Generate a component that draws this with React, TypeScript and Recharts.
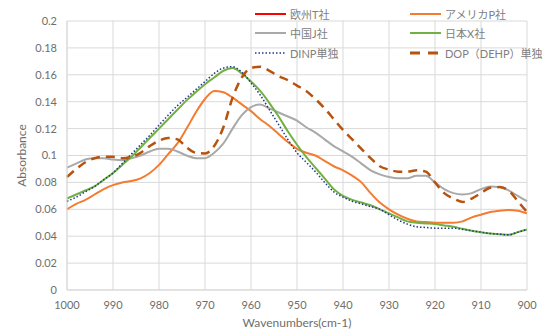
import React from 'react';
import { LineChart, Line, XAxis, YAxis, CartesianGrid } from 'recharts';

const wavenumbers = [1000, 998, 996, 994, 992, 990, 988, 986, 984, 982, 980, 978, 976, 974, 972, 970, 968, 966, 964, 962, 960, 958, 956, 954, 952, 950, 948, 946, 944, 942, 940, 938, 936, 934, 932, 930, 928, 926, 924, 922, 920, 918, 916, 914, 912, 910, 908, 906, 904, 902, 900];

const americaP = [0.060, 0.064, 0.067, 0.071, 0.075, 0.078, 0.080, 0.081, 0.083, 0.087, 0.093, 0.101, 0.109, 0.120, 0.132, 0.142, 0.148, 0.147, 0.143, 0.138, 0.133, 0.127, 0.122, 0.116, 0.110, 0.105, 0.102, 0.100, 0.096, 0.092, 0.089, 0.085, 0.080, 0.072, 0.065, 0.060, 0.056, 0.053, 0.051, 0.0505, 0.050, 0.050, 0.050, 0.051, 0.054, 0.056, 0.058, 0.059, 0.0595, 0.059, 0.057];

const chinaJ = [0.091, 0.094, 0.097, 0.098, 0.098, 0.097, 0.0965, 0.098, 0.100, 0.103, 0.105, 0.105, 0.103, 0.100, 0.098, 0.098, 0.102, 0.109, 0.120, 0.130, 0.136, 0.138, 0.135, 0.132, 0.129, 0.126, 0.121, 0.117, 0.112, 0.107, 0.103, 0.099, 0.094, 0.089, 0.086, 0.084, 0.083, 0.083, 0.085, 0.085, 0.080, 0.075, 0.072, 0.071, 0.072, 0.075, 0.077, 0.0765, 0.074, 0.070, 0.066];

const japanX = [0.068, 0.071, 0.074, 0.077, 0.082, 0.087, 0.093, 0.099, 0.106, 0.113, 0.120, 0.127, 0.134, 0.141, 0.147, 0.153, 0.158, 0.163, 0.165, 0.161, 0.155, 0.148, 0.139, 0.129, 0.118, 0.108, 0.099, 0.091, 0.083, 0.075, 0.070, 0.067, 0.065, 0.063, 0.060, 0.057, 0.054, 0.051, 0.050, 0.0495, 0.049, 0.048, 0.047, 0.0455, 0.044, 0.043, 0.042, 0.0415, 0.041, 0.043, 0.045];

const dinp = [0.066, 0.069, 0.073, 0.077, 0.082, 0.087, 0.094, 0.101, 0.108, 0.115, 0.1226, 0.130, 0.137, 0.143, 0.149, 0.155, 0.161, 0.165, 0.166, 0.162, 0.154, 0.145, 0.134, 0.123, 0.112, 0.102, 0.095, 0.088, 0.080, 0.073, 0.069, 0.066, 0.064, 0.062, 0.060, 0.056, 0.052, 0.049, 0.047, 0.0465, 0.046, 0.046, 0.046, 0.045, 0.044, 0.043, 0.042, 0.0415, 0.041, 0.043, 0.045];

const dop = [0.084, 0.090, 0.095, 0.098, 0.099, 0.099, 0.098, 0.099, 0.102, 0.107, 0.111, 0.113, 0.112, 0.106, 0.102, 0.1015, 0.107, 0.121, 0.143, 0.158, 0.165, 0.166, 0.163, 0.159, 0.156, 0.152, 0.148, 0.142, 0.135, 0.127, 0.119, 0.112, 0.105, 0.098, 0.092, 0.0895, 0.088, 0.088, 0.089, 0.088, 0.080, 0.072, 0.068, 0.0655, 0.068, 0.072, 0.076, 0.0765, 0.074, 0.066, 0.058];

const xTicks = [1000, 990, 980, 970, 960, 950, 940, 930, 920, 910, 900];
const yTicks = [0, 0.02, 0.04, 0.06, 0.08, 0.1, 0.12, 0.14, 0.16, 0.18, 0.2];

const seriesNames = ['欧州T社', 'アメリカP社', '中国J社', '日本X社', 'DINP単独', 'DOP（DEHP）単独'];

const data = wavenumbers.map((w, i) => ({
  w,
  europeT: null,
  americaP: americaP[i],
  chinaJ: chinaJ[i],
  japanX: japanX[i],
  dinp: dinp[i],
  dop: dop[i],
}));

const styles = [
  { key: 'europeT', color: '#FF0000', width: 2, dash: undefined as string | undefined },
  { key: 'americaP', color: '#F47C30', width: 2, dash: undefined },
  { key: 'chinaJ', color: '#A9A9A9', width: 2, dash: undefined },
  { key: 'japanX', color: '#72B043', width: 2, dash: undefined },
  { key: 'dinp', color: '#1F3B88', width: 1.5, dash: '1.5 2' },
  { key: 'dop', color: '#B8520F', width: 2.5, dash: '9 6' },
];

const FONT = 'Lato, "Noto Sans CJK JP", sans-serif';
const TEXT = '#6e6e6e';

function LegendOverlay() {
  const rows = [[0, 1], [2, 3], [4, 5]];
  return (
    <div style={{ position: 'absolute', left: 255, top: 4, fontFamily: FONT, fontSize: 11, color: '#808080' }}>
      {rows.map((r, ri) => (
        <div key={ri} style={{ display: 'flex', height: 19.5, alignItems: 'center' }}>
          {r.map((idx) => {
            const s = styles[idx];
            return (
              <div key={idx} style={{ display: 'flex', alignItems: 'center', width: 155 }}>
                <svg width={31} height={6} style={{ marginRight: 4 }}>
                  <line x1={0} y1={3} x2={31} y2={3} stroke={s.color} strokeWidth={s.key === 'dop' ? 3 : s.width} strokeDasharray={s.key === 'dop' ? '10 8' : s.dash} />
                </svg>
                <span style={{ whiteSpace: 'nowrap' }}>{seriesNames[idx]}</span>
              </div>
            );
          })}
        </div>
      ))}
    </div>
  );
}

export default function App() {
  return (
    <div style={{ position: 'absolute', left: 0, top: 0, width: 547, height: 331, background: '#fff' }}>
      <LineChart width={547} height={331} data={data} margin={{ top: 21, right: 20, bottom: 0, left: 0 }}>
        <CartesianGrid stroke="#d9d9d9" strokeWidth={1} />
        <XAxis
          dataKey="w"
          type="number"
          domain={[900, 1000]}
          reversed
          ticks={xTicks}
          interval={0}
          height={41}
          tickLine={false}
          tickSize={8}
          tickMargin={3}
          axisLine={{ stroke: '#d9d9d9' }}
          tick={{ fill: TEXT, fontSize: 11, fontFamily: FONT }}
          label={{ value: 'Wavenumbers(cm-1)', position: 'insideBottom', offset: 4, fill: TEXT, fontSize: 12, fontFamily: FONT }}
        />
        <YAxis
          type="number"
          domain={[0, 0.2]}
          ticks={yTicks}
          interval={0}
          width={67}
          tickLine={false}
          tickSize={8}
          tickMargin={2}
          axisLine={{ stroke: '#d9d9d9' }}
          tick={{ fill: TEXT, fontSize: 11, fontFamily: FONT }}
          label={{ value: 'Absorbance', angle: -90, position: 'insideLeft', offset: 22, fill: TEXT, fontSize: 12, fontFamily: FONT, style: { textAnchor: 'middle' } }}
        />
        {styles.map((s, i) => (
          <Line
            key={s.key}
            name={seriesNames[i]}
            dataKey={s.key}
            type="monotone"
            stroke={s.color}
            strokeWidth={s.width}
            strokeDasharray={s.dash}
            dot={false}
            activeDot={false}
            isAnimationActive={false}
            connectNulls={false}
          />
        ))}
      </LineChart>
      <LegendOverlay />
    </div>
  );
}
